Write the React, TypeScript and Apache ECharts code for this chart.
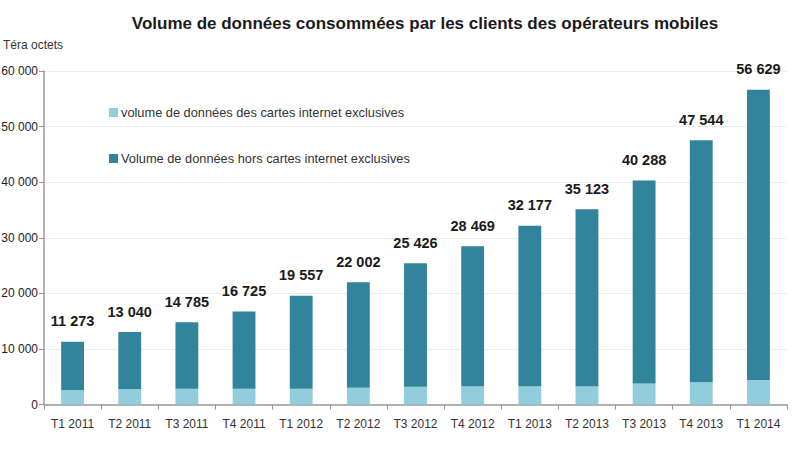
import React, { useEffect, useRef } from "react";
import * as echarts from "echarts";

const categories = [
  "T1 2011", "T2 2011", "T3 2011", "T4 2011", "T1 2012", "T2 2012", "T3 2012",
  "T4 2012", "T1 2013", "T2 2013", "T3 2013", "T4 2013", "T1 2014",
];
const totals = [11273, 13040, 14785, 16725, 19557, 22002, 25426, 28469, 32177, 35123, 40288, 47544, 56629];
const cartesInternet = [2550, 2800, 2850, 2850, 2850, 3000, 3200, 3300, 3300, 3300, 3800, 4000, 4400];
const horsCartes = totals.map((t, i) => t - cartesInternet[i]);

const seriesNames = [
  "volume de données des cartes internet exclusives",
  "Volume de données hors cartes internet exclusives",
];
const title = "Volume de données consommées par les clients des opérateurs mobiles";
const unit = "Téra octets";

const fmt = (v: number) => String(v).replace(/\B(?=(\d{3})+(?!\d))/g, " ");

export default function App() {
  const ref = useRef<HTMLDivElement>(null);
  useEffect(() => {
    if (!ref.current) return;
    const chart = echarts.init(ref.current, null, { renderer: "svg" });
    chart.setOption({
      animation: false,
      backgroundColor: "#ffffff",
      title: {
        text: title,
        left: 420,
        textAlign: "center",
        top: 10,
        textStyle: { fontFamily: "Liberation Sans", fontSize: 17, fontWeight: "bold", color: "#1a1a1a" },
      },
      graphic: [
        {
          type: "text",
          x: 3,
          y: 45,
          style: {
            text: unit,
            align: "left",
            verticalAlign: "middle",
            font: "12px 'Liberation Sans'",
            fill: "#333",
          },
        },
      ],
      legend: {
        orient: "vertical",
        left: 104,
        top: 101,
        itemGap: 33,
        itemWidth: 9,
        itemHeight: 9,
        icon: "rect",
        textStyle: { fontFamily: "Liberation Sans", fontSize: 12.8, color: "#333", padding: [0, 0, 0, -2] },
        data: seriesNames,
      },
      grid: { left: 44, right: 13, top: 71, bottom: 45.5, containLabel: false, outerBoundsMode: "none" },
      xAxis: {
        type: "category",
        data: categories,
        axisLine: { lineStyle: { color: "#999", width: 1.5 } },
        axisTick: { show: true, length: 5, lineStyle: { color: "#999" } },
        axisLabel: { interval: 0, margin: 13, fontFamily: "Liberation Sans", fontSize: 12, color: "#333" },
      },
      yAxis: {
        type: "value",
        min: 0,
        max: 60000,
        interval: 10000,
        axisLine: { show: true, lineStyle: { color: "#999", width: 1.5 } },
        axisTick: { show: true, length: 5, lineStyle: { color: "#999" } },
        splitLine: { lineStyle: { color: "#ececec" } },
        axisLabel: {
          margin: 6,
          fontFamily: "Liberation Sans",
          fontSize: 12,
          color: "#222",
          formatter: (v: number) => fmt(v),
        },
      },
      series: [
        {
          name: seriesNames[0],
          type: "bar",
          stack: "total",
          barWidth: "40%",
          data: cartesInternet,
          itemStyle: { color: "#92cddc" },
        },
        {
          name: seriesNames[1],
          type: "bar",
          stack: "total",
          data: horsCartes,
          itemStyle: { color: "#31849b" },
          label: {
            show: true,
            position: "top",
            distance: 13,
            fontFamily: "Liberation Sans",
            fontSize: 14.5,
            fontWeight: "bold",
            color: "#1a1a1a",
            formatter: (p: any) => fmt(totals[p.dataIndex]),
          },
        },
      ],
    });
    return () => chart.dispose();
  }, []);
  return <div ref={ref} style={{ width: 800, height: 450, position: "absolute", left: 0, top: 0 }} />;
}
